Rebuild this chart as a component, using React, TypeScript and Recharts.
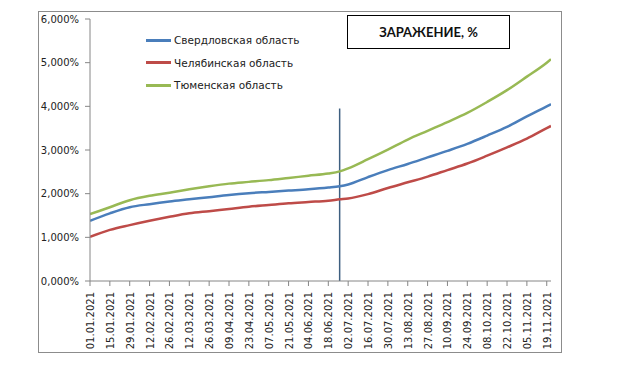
import React from 'react';
import { LineChart, Line, XAxis, YAxis, ReferenceLine } from 'recharts';

const days = [0, 14, 28, 42, 56, 70, 84, 98, 112, 126, 140, 154, 168, 176, 182, 196, 210, 224, 238, 252, 266, 280, 294, 308, 322, 325];
const sverdlovsk = [1.38, 1.55, 1.69, 1.76, 1.82, 1.87, 1.92, 1.97, 2.01, 2.04, 2.07, 2.1, 2.14, 2.17, 2.21, 2.38, 2.54, 2.68, 2.83, 2.98, 3.14, 3.33, 3.53, 3.77, 4.0, 4.05];
const chelyabinsk = [1.01, 1.17, 1.28, 1.38, 1.47, 1.55, 1.6, 1.65, 1.7, 1.74, 1.78, 1.81, 1.84, 1.87, 1.89, 1.99, 2.13, 2.26, 2.39, 2.54, 2.69, 2.87, 3.06, 3.26, 3.5, 3.55];
const tyumen = [1.53, 1.69, 1.85, 1.95, 2.02, 2.1, 2.17, 2.23, 2.27, 2.31, 2.36, 2.41, 2.46, 2.51, 2.58, 2.79, 3.01, 3.24, 3.44, 3.64, 3.85, 4.1, 4.37, 4.68, 5.0, 5.08];

const tickLabels = ['01.01.2021', '15.01.2021', '29.01.2021', '12.02.2021', '26.02.2021', '12.03.2021', '26.03.2021', '09.04.2021', '23.04.2021', '07.05.2021', '21.05.2021', '04.06.2021', '18.06.2021', '02.07.2021', '16.07.2021', '30.07.2021', '13.08.2021', '27.08.2021', '10.09.2021', '24.09.2021', '08.10.2021', '22.10.2021', '05.11.2021', '19.11.2021'];
const tickStep = 14;
const yTicks = [0, 1, 2, 3, 4, 5, 6];
const markerDay = 176;
const markerTop = 3.95;

const seriesNames = ['Свердловская область', 'Челябинская область', 'Тюменская область'];
const colors = ['#4A7EBB', '#BE4B48', '#98B954'];
const title = 'ЗАРАЖЕНИЕ, %';

const data = days.map((d, i) => ({ day: d, s: sverdlovsk[i], c: chelyabinsk[i], t: tyumen[i] }));
const xTicks = tickLabels.map((_, i) => i * tickStep);

const FONT = 'DejaVu Sans';

const XTick = (props: any) => {
  const { x, y, payload } = props;
  const idx = Math.round(payload.value / tickStep);
  return (
    <text
      transform={`translate(${x + 4},${y + 4}) rotate(-90)`}
      textAnchor="end"
      fontFamily={FONT}
      fontSize={10}
      fill="#222"
    >
      {tickLabels[idx]}
    </text>
  );
};

export default function App() {
  return (
    <div style={{ position: 'fixed', left: 0, top: 0, width: 625, height: 373, background: '#fff' }}>
      <div style={{ position: 'absolute', left: 38, top: 11, width: 522, height: 340, border: '1px solid #8c8c8c' }} />
      <div style={{ position: 'absolute', left: 0, top: 0 }}>
        <LineChart width={625} height={373} data={data} margin={{ top: 19, right: 74, bottom: 30, left: 40 }}>
          <XAxis
            type="number"
            dataKey="day"
            domain={[0, 325]}
            ticks={xTicks}
            interval={0}
            tick={<XTick />}
            tickSize={5}
            height={62}
            stroke="#868686"
            allowDataOverflow
          />
          <YAxis
            domain={[0, 6]}
            ticks={yTicks}
            width={50}
            tickSize={5}
            tickMargin={6}
            stroke="#868686"
            tick={{ fontFamily: FONT, fontSize: 10, fill: '#222' }}
            tickFormatter={(v: number) => v.toFixed(3).replace('.', ',') + '%'}
          />
          <ReferenceLine
            segment={[{ x: markerDay, y: 0 }, { x: markerDay, y: markerTop }]}
            stroke="#3E5F80"
            strokeWidth={1.5}
          />
          <Line type="monotone" dataKey="s" name={seriesNames[0]} stroke={colors[0]} strokeWidth={2.5} dot={false} isAnimationActive={false} />
          <Line type="monotone" dataKey="c" name={seriesNames[1]} stroke={colors[1]} strokeWidth={2.5} dot={false} isAnimationActive={false} />
          <Line type="monotone" dataKey="t" name={seriesNames[2]} stroke={colors[2]} strokeWidth={2.5} dot={false} isAnimationActive={false} />
        </LineChart>
      </div>
      <div style={{ position: 'absolute', left: 146, top: 29, fontFamily: FONT, fontSize: 10.5, color: '#222' }}>
        {seriesNames.map((n, i) => (
          <div key={n} style={{ display: 'flex', alignItems: 'center', height: 22.5 }}>
            <div style={{ width: 25, height: 3, background: colors[i], marginRight: 3 }} />
            <span>{n}</span>
          </div>
        ))}
      </div>
      <div
        style={{
          position: 'absolute',
          left: 347,
          top: 15,
          width: 161,
          height: 32,
          border: '1px solid #000',
          display: 'flex',
          alignItems: 'center',
          justifyContent: 'center',
          fontFamily: 'Lato',
          fontWeight: 'bold',
          fontSize: 13,
          color: '#111',
        }}
      >
        {title}
      </div>
    </div>
  );
}
